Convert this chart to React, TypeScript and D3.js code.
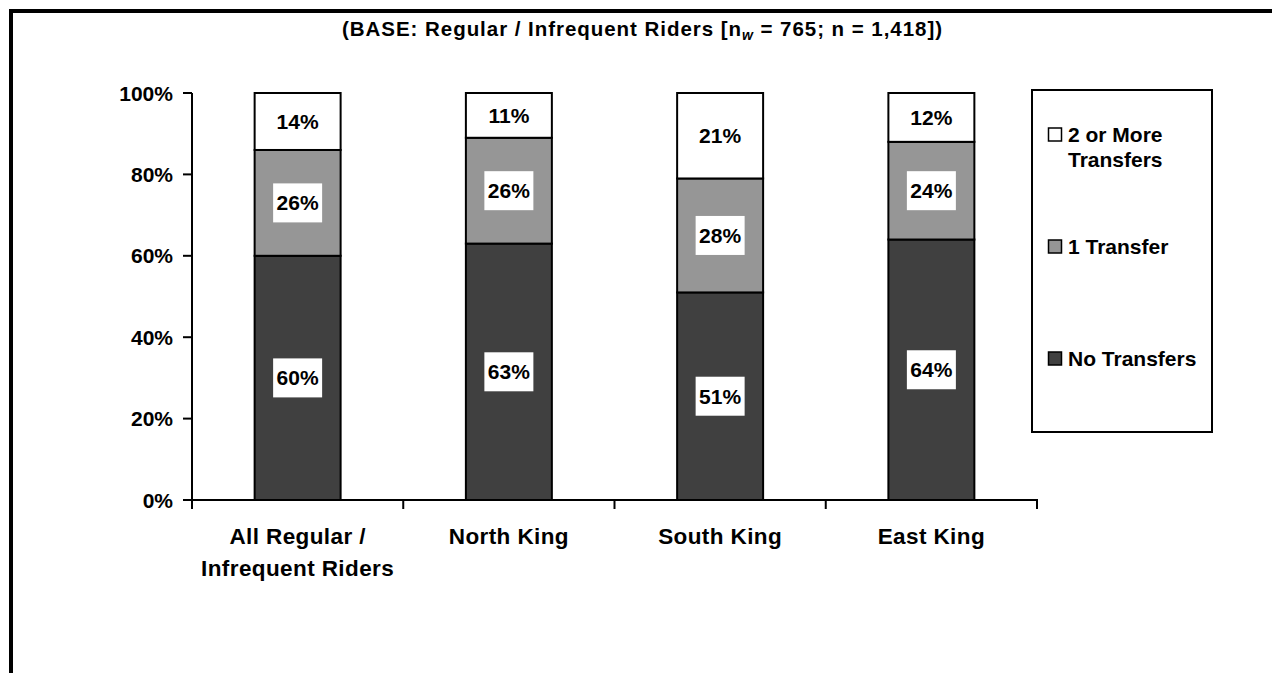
import React from "react";
import * as d3 from "d3";

const categories = ["All Regular / Infrequent Riders", "North King", "South King", "East King"];
const categoryLines = [["All Regular /", "Infrequent Riders"], ["North King"], ["South King"], ["East King"]];
const seriesNames = ["No Transfers", "1 Transfer", "2 or More Transfers"];
const legendLines = [["No Transfers"], ["1 Transfer"], ["2 or More", "Transfers"]];
const noTransfers = [60, 63, 51, 64];
const oneTransfer = [26, 26, 28, 24];
const twoOrMore = [14, 11, 21, 12];
const yTicks = [0, 20, 40, 60, 80, 100];
const colors = ["#404040", "#969696", "#ffffff"];

const W = 1272;
const H = 673;
const FONT = "'Liberation Sans', Arial, sans-serif";

export default function App() {
  const x = d3.scaleBand<string>().domain(categories).range([192, 1037]).padding(0);
  const y = d3.scaleLinear().domain([0, 100]).range([500, 93]);
  const barW = x.bandwidth() * 0.407;

  const rows = categories.map((c, i) => ({
    cat: c,
    "No Transfers": noTransfers[i],
    "1 Transfer": oneTransfer[i],
    "2 or More Transfers": twoOrMore[i],
  }));
  const stacked = d3.stack<any>().keys(seriesNames)(rows);

  const legendY = [358, 246, 134];

  return (
    <svg width={W} height={H} style={{ position: "absolute", left: 0, top: 0, background: "#fff" }} fontFamily={FONT} fontWeight="bold">
      <rect x={0} y={0} width={W} height={H} fill="#fff" />
      <rect x={11} y={11} width={1400} height={800} fill="none" stroke="#000" strokeWidth={4} />
      <text x={642} y={36} textAnchor="middle" fontSize={20.5} textLength={600} lengthAdjust="spacing">
        (BASE: Regular / Infrequent Riders [n
        <tspan fontSize={14} fontStyle="italic" dy={4}>w</tspan>
        <tspan dy={-4}> = 765; n = 1,418])</tspan>
      </text>

      {/* bars */}
      {stacked.map((s, si) => (
        <g key={s.key}>
          {s.map((d, i) => (
            <rect
              key={i}
              x={(x(categories[i]) as number) + x.bandwidth() / 2 - barW / 2}
              y={y(d[1])}
              width={barW}
              height={y(d[0]) - y(d[1])}
              fill={colors[si]}
              stroke="#000"
              strokeWidth={2}
            />
          ))}
        </g>
      ))}
      {/* labels */}
      {stacked.map((s, si) => (
        <g key={"l" + s.key}>
          {s.map((d, i) => {
            const cx = (x(categories[i]) as number) + x.bandwidth() / 2;
            const cy = (y(d[0]) + y(d[1])) / 2;
            const v = d[1] - d[0];
            return (
              <g key={i}>
                <rect x={cx - 24.5} y={cy - 19.5} width={49} height={39} fill="#fff" />
                <text x={cx} y={cy + 7.5} textAnchor="middle" fontSize={21}>
                  {v}%
                </text>
              </g>
            );
          })}
        </g>
      ))}

      {/* y axis */}
      <line x1={192} x2={192} y1={93} y2={501} stroke="#000" strokeWidth={2} />
      {yTicks.map((t) => (
        <g key={t}>
          <line x1={183} x2={192} y1={y(t)} y2={y(t)} stroke="#000" strokeWidth={2} />
          <text x={173} y={y(t) + 7.5} textAnchor="end" fontSize={21}>
            {t}%
          </text>
        </g>
      ))}
      {/* x axis */}
      <line x1={191} x2={1038} y1={500} y2={500} stroke="#000" strokeWidth={2} />
      {[...categories.map((c) => x(c) as number), 1037].map((tx, i) => (
        <line key={i} x1={tx} x2={tx} y1={500} y2={509} stroke="#000" strokeWidth={2} />
      ))}
      {categories.map((c, i) => (
        <text key={c} textAnchor="middle" fontSize={22.5} letterSpacing={0.4}>
          {categoryLines[i].map((ln, li) => (
            <tspan key={li} x={(x(c) as number) + x.bandwidth() / 2} y={544 + li * 31.7}>
              {ln}
            </tspan>
          ))}
        </text>
      ))}

      {/* legend */}
      <rect x={1032} y={90} width={180} height={342} fill="#fff" stroke="#000" strokeWidth={2} />
      {seriesNames.map((name, si) => (
        <g key={name}>
          <rect x={1048.5} y={legendY[si] - 6} width={13} height={13} fill={colors[si]} stroke="#000" strokeWidth={1.5} />
          <text fontSize={21}>
            {legendLines[si].map((ln, li) => (
              <tspan key={li} x={1068} y={legendY[si] + 7.5 + li * 25.7}>
                {ln}
              </tspan>
            ))}
          </text>
        </g>
      ))}
    </svg>
  );
}
